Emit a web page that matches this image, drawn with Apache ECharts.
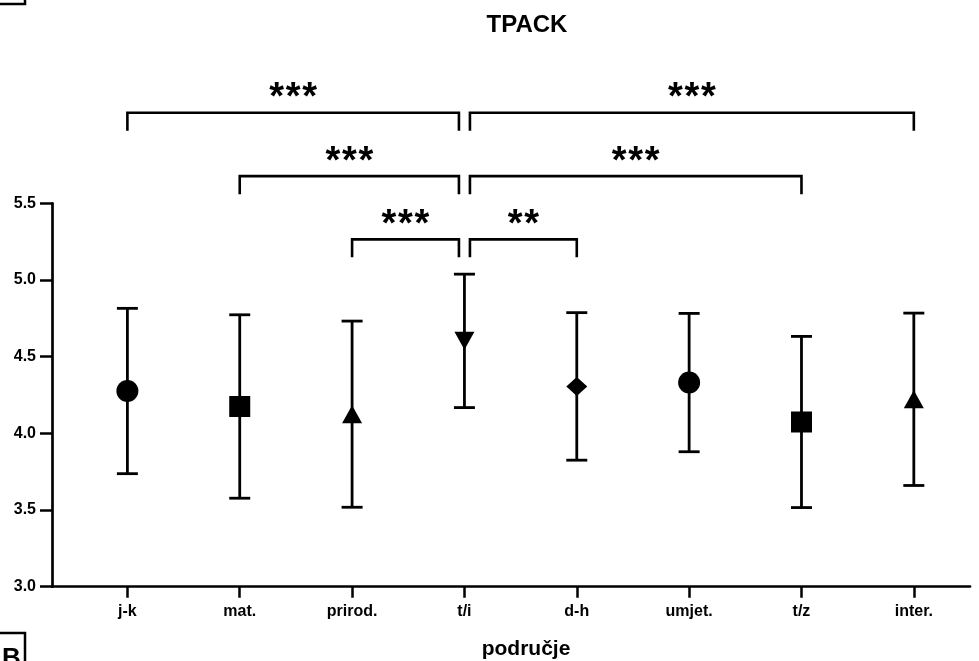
<!DOCTYPE html>
<html>
<head>
<meta charset="utf-8">
<script src="https://cdn.jsdelivr.net/npm/echarts@6/dist/echarts.min.js"></script>
<style>
html,body{margin:0;padding:0;background:#fff;}
#chart{width:979px;height:661px;}
</style>
</head>
<body>
<div id="chart"></div>
<script>
// ---- data ----
const categories = ['j-k', 'mat.', 'prirod.', 't/i', 'd-h', 'umjet.', 't/z', 'inter.'];
const means = [4.276, 4.175, 4.125, 4.603, 4.306, 4.331, 4.074, 4.222];
const sds   = [0.539, 0.598, 0.607, 0.435, 0.481, 0.451, 0.558, 0.562];
const symbols = ['circle', 'rect', 'triangle', 'triangle-down', 'diamond', 'circle', 'rect', 'triangle'];
const yTicks = [3.0, 3.5, 4.0, 4.5, 5.0, 5.5];
// comparisons: [from index, to index, bracket level (y units), label]
const compFrom   = [0, 1, 2, 3, 3, 3];
const compTo     = [3, 3, 3, 7, 6, 4];
const compLevel  = [6.09, 5.677, 5.265, 6.09, 5.677, 5.265];
const compLabel  = ['***', '***', '***', '***', '***', '**'];
const refIndex = 3;

// ---- chart ----
const chart = echarts.init(document.getElementById('chart'), null, {renderer: 'canvas'});
const FONT = 'Liberation Sans, Arial, sans-serif';

const symbolSizes = {
  'circle': [22, 22], 'rect': [21, 21], 'triangle': [20, 18],
  'triangle-down': [20, 18], 'diamond': [21, 19]
};

const markerData = means.map((m, i) => {
  const s = symbols[i];
  return {
    value: [i, m],
    symbol: s === 'triangle-down' ? 'triangle' : s,
    symbolRotate: s === 'triangle-down' ? 180 : 0,
    symbolSize: symbolSizes[s]
  };
});

const errData = means.map((m, i) => [i, m, sds[i]]);
const compData = compFrom.map((f, i) => [f, compTo[i], compLevel[i], i]);

const option = {
  backgroundColor: '#fff',
  animation: false,
  title: [
    {text: 'TPACK', left: 522, top: 8, textAlign: 'center',
     textStyle: {fontFamily: FONT, fontWeight: 'bold', fontSize: 24, color: '#000'}},
    {text: 'područje', left: 521, top: 634, textAlign: 'center',
     textStyle: {fontFamily: FONT, fontWeight: 'bold', fontSize: 21, color: '#000'}}
  ],
  grid: [
    {left: 52, right: 9, top: 203.3, bottom: 74.3, containLabel: false},
    {left: 52, right: 9, top: 80.6, bottom: 74.3, containLabel: false}
  ],
  xAxis: [
    {
      type: 'value', gridIndex: 0, min: -0.671, max: 7.5,
      splitLine: {show: false},
      axisLine: {show: true, onZero: false, lineStyle: {color: '#000', width: 2.7}},
      axisTick: {show: true, customValues: categories.map((c, i) => i), length: 11,
                 lineStyle: {color: '#000', width: 2.5}},
      axisLabel: {show: true, customValues: categories.map((c, i) => i),
                  formatter: v => categories[Math.round(v)] || '',
                  fontFamily: FONT, fontWeight: 'bold', fontSize: 16, color: '#000', margin: 17}
    },
    {
      type: 'value', gridIndex: 1, min: -0.671, max: 7.5, show: false
    }
  ],
  yAxis: [
    {
      type: 'value', gridIndex: 0, min: 3, max: 5.5, interval: 0.5,
      splitLine: {show: false},
      axisLine: {show: true, onZero: false, lineStyle: {color: '#000', width: 2.7}},
      axisTick: {show: true, length: 12, lineStyle: {color: '#000', width: 2.5}},
      axisLabel: {fontFamily: FONT, fontWeight: 'bold', fontSize: 16, color: '#000', margin: 16,
                  formatter: v => (yTicks.indexOf(v) >= 0 ? v.toFixed(1) : '')}
    },
    {
      type: 'value', gridIndex: 1, min: 3, max: 6.3, show: false
    }
  ],
  series: [
    {
      type: 'custom', xAxisIndex: 0, yAxisIndex: 0, z: 2,
      data: errData,
      renderItem: function (params, api) {
        const x = api.value(0), m = api.value(1), s = api.value(2);
        const hi = api.coord([x, m + s]);
        const lo = api.coord([x, m - s]);
        const hw = 10.5;
        const st = {stroke: '#000', lineWidth: 2.8, fill: null};
        return {
          type: 'group',
          children: [
            {type: 'line', shape: {x1: hi[0], y1: hi[1], x2: lo[0], y2: lo[1]}, style: st},
            {type: 'line', shape: {x1: hi[0] - hw, y1: hi[1], x2: hi[0] + hw, y2: hi[1]}, style: st},
            {type: 'line', shape: {x1: lo[0] - hw, y1: lo[1], x2: lo[0] + hw, y2: lo[1]}, style: st}
          ]
        };
      }
    },
    {
      type: 'scatter', xAxisIndex: 0, yAxisIndex: 0, z: 3,
      data: markerData,
      itemStyle: {color: '#000', opacity: 1}
    },
    {
      type: 'custom', xAxisIndex: 1, yAxisIndex: 1, z: 4,
      data: compData,
      clip: false,
      renderItem: function (params, api) {
        const f = api.value(0), t = api.value(1), lvl = api.value(2), idx = api.value(3);
        const pf = api.coord([f, lvl]);
        const pt = api.coord([t, lvl]);
        const gap = 5.5, drop = 18;
        let x1 = pf[0], x2 = pt[0];
        if (f === refIndex) x1 += (t > f ? gap : -gap);
        if (t === refIndex) x2 += (f > t ? gap : -gap);
        const y = pf[1];
        const children = [
          {type: 'polyline',
           shape: {points: [[x1, y + drop], [x1, y], [x2, y], [x2, y + drop]]},
           style: {stroke: '#000', lineWidth: 2.6, fill: null}}
        ];
        // draw the stars one by one so they keep the wider spacing of the original
        const txt = compLabel[idx];
        const n = txt.length, step = 16.5;
        const cx = (x1 + x2) / 2;
        for (let k = 0; k < n; k++) {
          children.push({type: 'text',
            style: {text: txt[k], x: cx + (k - (n - 1) / 2) * step, y: y + 5,
                    textAlign: 'center', textVerticalAlign: 'bottom',
                    fontFamily: FONT, fontWeight: 'bold', fontSize: 38, fill: '#000'}});
        }
        return {type: 'group', children: children};
      }
    }
  ],
  graphic: [
    {type: 'rect', shape: {x: -10, y: -20, width: 35, height: 24},
     style: {fill: null, stroke: '#000', lineWidth: 2.5}},
    {type: 'rect', shape: {x: -10, y: 633, width: 35, height: 40},
     style: {fill: null, stroke: '#000', lineWidth: 2.5}},
    {type: 'text', x: 2, y: 646,
     style: {text: 'B', fontFamily: FONT, fontWeight: 'bold', fontSize: 26, fill: '#000'}}
  ]
};
chart.setOption(option);
</script>
</body>
</html>
